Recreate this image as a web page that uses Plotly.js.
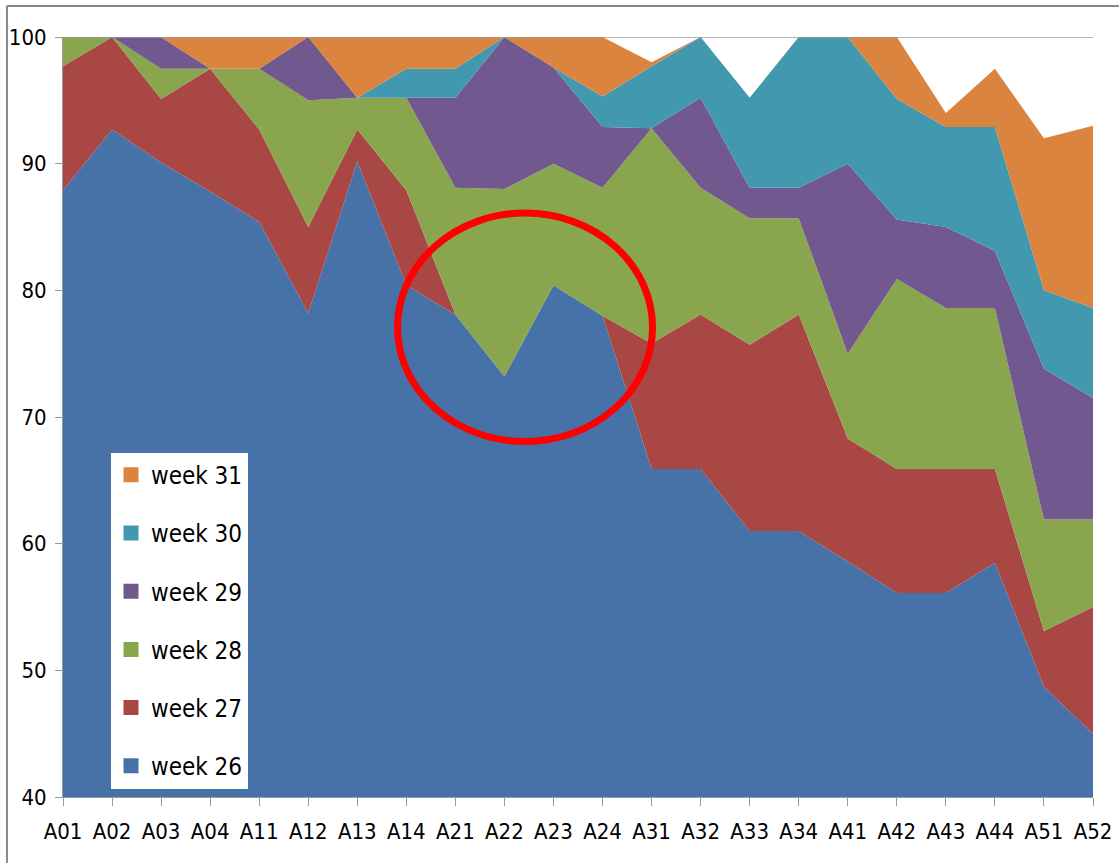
<!DOCTYPE html>
<html>
<head>
<meta charset="utf-8">
<script src="https://cdn.plot.ly/plotly-3.0.1.min.js"></script>
<style>
html,body{margin:0;padding:0;background:#fff;}
#chart{width:1119px;height:863px;}
</style>
</head>
<body>
<div id="chart"></div>
<script>
const categories = ["A01","A02","A03","A04","A11","A12","A13","A14","A21","A22","A23","A24","A31","A32","A33","A34","A41","A42","A43","A44","A51","A52"];
const week26 = [87.9,92.7,90.1,87.8,85.4,78.2,90.2,80.4,78.1,73.2,80.4,78.0,65.9,65.9,61.0,61.0,58.6,56.1,56.1,58.5,48.7,45.0];
const week27 = [9.8,7.3,5.0,9.7,7.3,6.8,2.5,7.5,0,0,0,0,9.9,12.2,14.7,17.1,9.7,9.8,9.8,7.4,4.4,10.0];
const week28 = [2.3,0,2.4,0,4.8,10.0,2.5,7.3,10.0,14.8,9.6,10.1,17.0,10.0,10.0,7.6,6.7,15.0,12.7,12.7,8.8,6.9];
const week29 = [0,0,2.5,0,0,5.0,0,0,7.1,12.0,7.6,4.8,0,7.1,2.4,2.4,15.0,4.7,6.4,4.5,11.9,9.6];
const week30 = [0,0,0,0,0,0,0,2.3,2.3,0,0,2.4,4.9,4.8,7.1,11.9,10.0,9.5,7.9,9.8,6.2,7.1];
const week31 = [0,0,0,2.5,2.5,0,4.8,2.5,2.5,0,2.4,4.7,0.3,0,0,0,0,4.9,1.1,4.6,12.0,14.4];

const seriesNames = ["week 26","week 27","week 28","week 29","week 30","week 31"];
const seriesValues = [week26,week27,week28,week29,week30,week31];
const seriesColors = ["#4672A8","#A94744","#89A54E","#71588F","#4298AF","#DB843F"];
const yTicks = [40,50,60,70,80,90,100];

const FONT = "'Liberation Sans Narrow','DejaVu Sans Condensed','Arial Narrow',sans-serif";

const traces = [];
seriesValues.forEach((vals, i) => {
  traces.push({
    type: "scatter",
    mode: "lines",
    x: categories,
    y: vals,
    stackgroup: "one",
    name: seriesNames[i],
    line: {width: 0, color: seriesColors[i]},
    fillcolor: seriesColors[i],
    showlegend: false,
    hoverinfo: "skip"
  });
});
// legend entries (top: week 31 ... bottom: week 26)
for (let i = seriesNames.length - 1; i >= 0; i--) {
  traces.push({
    type: "scatter",
    mode: "markers",
    x: [null],
    y: [null],
    name: seriesNames[i],
    legendgroup: "g" + i,
    marker: {symbol: "square", size: 15, color: seriesColors[i], line: {width: 0}},
    showlegend: true,
    hoverinfo: "skip"
  });
}

const layout = {
  width: 1119,
  height: 863,
  margin: {l: 63, r: 26, t: 37, b: 66},
  paper_bgcolor: "#fff",
  plot_bgcolor: "#fff",
  font: {family: FONT, color: "#000", size: 22},
  showlegend: true,
  legend: {
    x: 0.0466, y: 0.453, xanchor: "left", yanchor: "top",
    bgcolor: "#fff", borderwidth: 0,
    traceorder: "grouped",
    tracegroupgap: 24,
    font: {family: FONT, size: 24, color: "#000"},
    itemclick: false
  },
  xaxis: {
    type: "category",
    categoryorder: "array",
    categoryarray: categories,
    range: [0, categories.length - 1],
    showgrid: false,
    showline: true,
    linecolor: "#9a9a9a",
    linewidth: 1,
    ticks: "outside",
    ticklen: 8,
    tickcolor: "#9a9a9a",
    ticklabelstandoff: 7,
    tickfont: {family: FONT, size: 22, color: "#000"},
    zeroline: false,
    fixedrange: true
  },
  yaxis: {
    range: [40, 100],
    tickvals: yTicks,
    ticktext: yTicks.map(String),
    showgrid: false,
    showline: true,
    linecolor: "#9a9a9a",
    linewidth: 1,
    ticks: "outside",
    ticklen: 7,
    tickcolor: "#9a9a9a",
    ticklabelstandoff: 4,
    tickfont: {family: FONT, size: 22, color: "#000"},
    zeroline: false,
    fixedrange: true
  },
  shapes: [
    // gridline at 100
    {type: "line", xref: "paper", yref: "y", x0: 0, x1: 1, y0: 100, y1: 100,
     line: {color: "#9a9a9a", width: 1.5}, layer: "above"},
    // outer chart border (top and left)
    {type: "line", xref: "paper", yref: "paper", x0: -0.0544, x1: 1.03, y0: 1.0408, y1: 1.0408,
     line: {color: "#888", width: 2}, layer: "above"},
    {type: "line", xref: "paper", yref: "paper", x0: -0.0544, x1: -0.0544, y0: 1.0408, y1: -0.09,
     line: {color: "#888", width: 2}, layer: "above"},
    // red highlight ellipse
    {type: "circle", xref: "x", yref: "y", x0: 6.82, x1: 12.02, y0: 68.07, y1: 86.1,
     line: {color: "#ff0000", width: 7}, fillcolor: "rgba(0,0,0,0)", layer: "above"}
  ]
};

Plotly.newPlot("chart", traces, layout, {staticPlot: true, displayModeBar: false});
</script>
</body>
</html>
